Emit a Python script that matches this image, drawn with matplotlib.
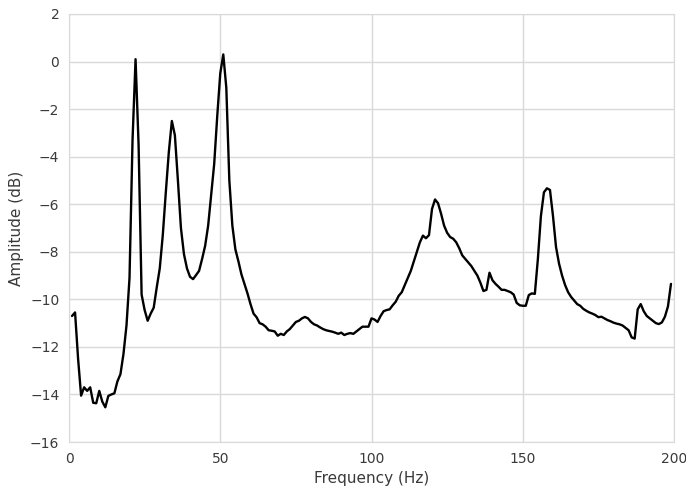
import numpy as np
import matplotlib
matplotlib.use('Agg')
import matplotlib.pyplot as plt
import seaborn as sns

# Spectrum, 1 Hz steps
freq_hz = np.arange(1, 200)
amp_db = [
    -10.7, -10.55, -12.5, -14.05, -13.7, -13.85, -13.7, -14.35, -14.37, -13.85,
    -14.3, -14.54, -14.06, -14.0, -13.95, -13.45, -13.15, -12.3, -11.1, -9.1,
    -3.3, 0.1, -3.5, -9.8, -10.45, -10.9, -10.6, -10.35, -9.5, -8.7,
    -7.3, -5.5, -3.8, -2.5, -3.1, -5.0, -7.0, -8.1, -8.7, -9.05,
    -9.15, -8.98, -8.8, -8.3, -7.75, -6.9, -5.6, -4.3, -2.3, -0.5,
    0.3, -1.1, -5.0, -6.9, -7.9, -8.4, -8.95, -9.35, -9.75, -10.2,
    -10.6, -10.75, -11.0, -11.05, -11.15, -11.3, -11.32, -11.35, -11.53, -11.45,
    -11.5, -11.35, -11.25, -11.1, -10.95, -10.9, -10.8, -10.74, -10.8, -10.95,
    -11.05, -11.1, -11.18, -11.25, -11.3, -11.33, -11.36, -11.4, -11.45, -11.4,
    -11.5, -11.45, -11.42, -11.45, -11.35, -11.25, -11.15, -11.15, -11.15, -10.8,
    -10.85, -10.95, -10.7, -10.5, -10.45, -10.42, -10.25, -10.1, -9.85, -9.7,
    -9.4, -9.1, -8.8, -8.4, -8.0, -7.6, -7.32, -7.43, -7.3, -6.2,
    -5.8, -5.96, -6.4, -6.9, -7.2, -7.38, -7.45, -7.6, -7.85, -8.15,
    -8.3, -8.45, -8.6, -8.8, -9.0, -9.3, -9.65, -9.6, -8.88, -9.2,
    -9.35, -9.47, -9.6, -9.6, -9.65, -9.7, -9.8, -10.15, -10.25, -10.27,
    -10.27, -9.82, -9.75, -9.77, -8.3, -6.5, -5.5, -5.33, -5.4, -6.5,
    -7.8, -8.5, -9.0, -9.4, -9.7, -9.9, -10.05, -10.2, -10.27, -10.4,
    -10.48, -10.55, -10.6, -10.66, -10.75, -10.73, -10.8, -10.87, -10.92, -10.98,
    -11.02, -11.05, -11.1, -11.2, -11.3, -11.6, -11.65, -10.42, -10.2, -10.5,
    -10.7, -10.8, -10.9, -11.0, -11.04, -10.97, -10.73, -10.3, -9.35,
]
x_ticks = [0, 50, 100, 150, 200]
y_ticks = list(range(-16, 3, 2))

sns.set_style('whitegrid')
plt.rcParams['font.family'] = ['DejaVu Sans']

fig = plt.figure(figsize=(6.86, 4.86), dpi=100)
ax = fig.add_axes([0.1006, 0.0905, 0.8819, 0.8807])

ax.plot(freq_hz, amp_db, color='black', linewidth=1.7)

ax.set_xlim(0, 200)
ax.set_ylim(-16, 2)
ax.set_xticks(x_ticks)
ax.set_yticks(y_ticks)
ax.tick_params(axis='both', length=0, pad=7, labelsize=10, labelcolor='#3a3a3a')
ax.set_xlabel('Frequency (Hz)', fontsize=11, color='#3a3a3a')
ax.set_ylabel('Amplitude (dB)', fontsize=11, color='#3a3a3a')
ax.grid(True, color='#d9d9d9', linewidth=1.0)
for s in ax.spines.values():
    s.set_color('#d9d9d9')

fig.savefig('out.png', dpi=100)
